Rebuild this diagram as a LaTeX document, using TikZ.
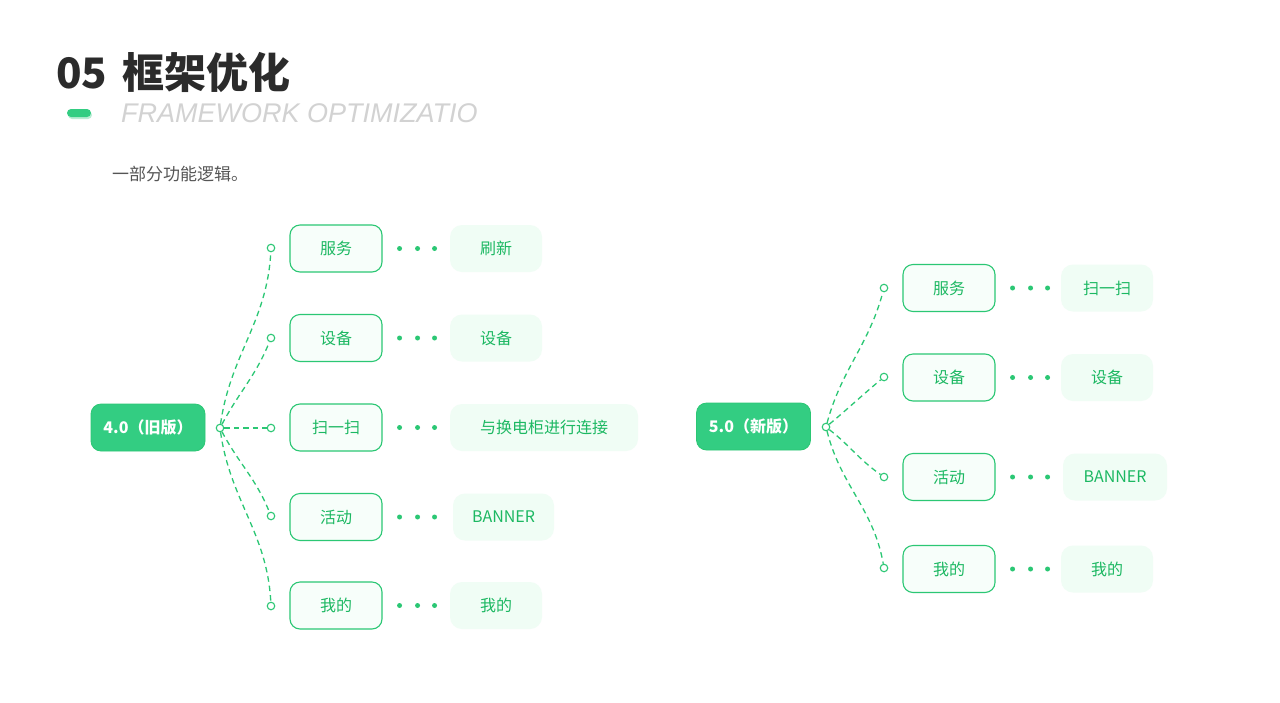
\documentclass[tikz,border=0pt]{standalone}
\usepackage{fontspec}
\setmainfont{Noto Sans CJK SC}
\newfontfamily\latinfont{Liberation Sans}
\usetikzlibrary{positioning}
\definecolor{mgreen}{HTML}{33CD82}
\definecolor{lgreen}{HTML}{2BC774}
\definecolor{tgreen}{HTML}{1CB862}
\definecolor{pale}{HTML}{F0FDF5}
\definecolor{titlegray}{HTML}{2B2B2B}
\definecolor{subgray}{HTML}{D2D2D2}
\definecolor{textgray}{HTML}{555555}
\tikzset{
  boxfont/.style={font=\fontsize{16}{19}\selectfont},
  root/.style={boxfont, font=\fontsize{16}{19}\selectfont\bfseries, rounded corners=10pt, fill=mgreen,
    draw=lgreen, line width=0.8pt, minimum width=114pt, minimum height=47pt, text=white},
  item/.style={boxfont, rounded corners=10pt, draw=lgreen, fill=pale!55, line width=1.1pt,
    minimum width=92pt, minimum height=47pt, text=tgreen},
  leaf/.style={boxfont, rounded corners=12pt, fill=pale, minimum width=92pt,
    minimum height=47pt, text=tgreen},
  knot/.style={circle, draw=lgreen, fill=white, line width=1.1pt, inner sep=0pt, minimum size=7.5pt},
  link/.style={draw=lgreen, dash pattern=on 5.5pt off 4pt, line width=1.3pt},
  dotmark/.style={circle, fill=lgreen, inner sep=0pt, minimum size=5pt}
}
\begin{document}
\begin{tikzpicture}[x=1pt, y=-1pt]
\useasboundingbox[fill=white] (0,0) rectangle (1280,702);

% header
\node[anchor=west, inner sep=0pt, text=titlegray, font=\fontsize{42}{42}\selectfont\bfseries] (title) at (56,72) {05\hspace{15pt}框架优化};
\fill[mgreen!35, rounded corners=4pt] (68,111) rectangle (92,119);
\fill[mgreen, rounded corners=4pt] (67,109) rectangle (91,117);
\node[anchor=west, inner sep=0pt, text=subgray, font=\latinfont\fontsize{27}{27}\selectfont\itshape] (subtitle) at (121,113) {FRAMEWORK OPTIMIZATIO};
\node[anchor=west, inner sep=0pt, text=textgray, font=\fontsize{17}{17}\selectfont] (intro) at (112,174) {一部分功能逻辑。};

% 4.0
\node[root] (old) at (148,427.5) {4.0（旧版）};
\node[knot] (oldhub) at (220,428) {};
\node[knot] (ok1) at (271,248) {};
\node[knot] (ok2) at (271,338) {};
\node[knot] (ok3) at (271,428) {};
\node[knot] (ok4) at (271,516) {};
\node[knot] (ok5) at (271,606) {};
\node[item] (oa1) at (336,248.5) {服务};
\node[item] (oa2) at (336,338) {设备};
\node[item] (oa3) at (336,427.5) {扫一扫};
\node[item] (oa4) at (336,517) {活动};
\node[item] (oa5) at (336,605.5) {我的};
\node[leaf] (ob1) at (496,248.5) {刷新};
\node[leaf] (ob2) at (496,338) {设备};
\node[leaf, minimum width=188pt] (ob3) at (544,427.5) {与换电柜进行连接};
\node[leaf, minimum width=101pt] (ob4) at (503.5,517) {BANNER};
\node[leaf] (ob5) at (496,605.5) {我的};

\draw[link] (oldhub) to[out=82, in=-93] (ok1);
\draw[link] (oldhub) to[out=62, in=-112] (ok2);
\draw[link] (oldhub) -- (ok3);
\draw[link] (oldhub) to[out=-62, in=112] (ok4);
\draw[link] (oldhub) to[out=-82, in=93] (ok5);

% 5.0
\node[root] (new) at (753.5,426.5) {5.0（新版）};
\node[knot] (newhub) at (826,427) {};
\node[knot] (nk1) at (884,288) {};
\node[knot] (nk2) at (884,377) {};
\node[knot] (nk3) at (884,477) {};
\node[knot] (nk4) at (884,568) {};
\node[item] (na1) at (949,288) {服务};
\node[item] (na2) at (949,377.5) {设备};
\node[item] (na3) at (949,477) {活动};
\node[item] (na4) at (949,569) {我的};
\node[leaf] (nb1) at (1107,288) {扫一扫};
\node[leaf] (nb2) at (1107,377.5) {设备};
\node[leaf, minimum width=104pt] (nb3) at (1115,477) {BANNER};
\node[leaf] (nb4) at (1107,569) {我的};

\draw[link] (newhub) to[out=75, in=-105] (nk1);
\draw[link] (newhub) to[out=40, in=-140] (nk2);
\draw[link] (newhub) to[out=-38, in=145] (nk3);
\draw[link] (newhub) to[out=-76, in=100] (nk4);

% dots between boxes
\foreach \src in {oa1,oa2,oa3,oa4,oa5,na1,na2,na3,na4}
  \foreach \dx in {17,35,52}
    \node[dotmark] at ([xshift=\dx pt]\src.east) {};
\end{tikzpicture}
\end{document}
